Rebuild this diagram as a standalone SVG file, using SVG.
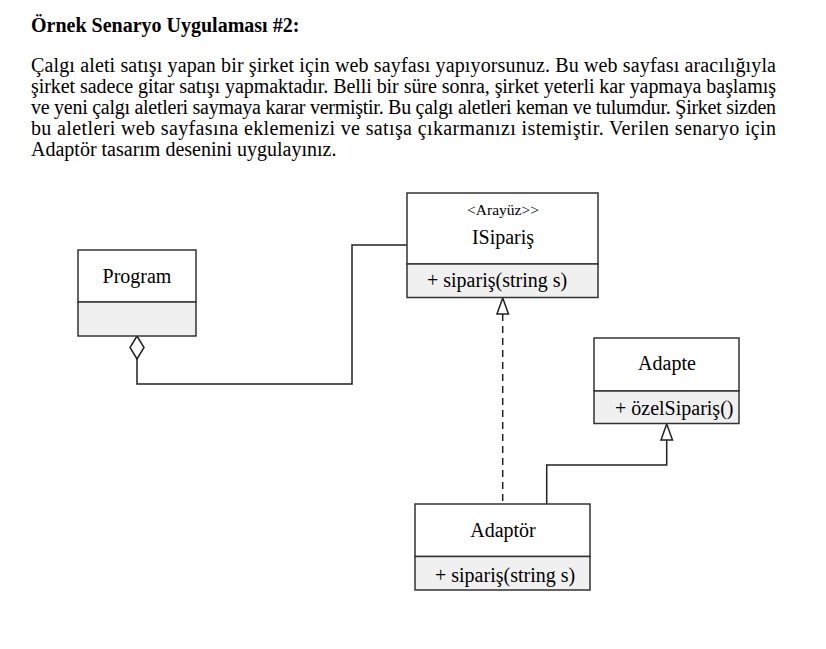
<svg xmlns="http://www.w3.org/2000/svg" width="826" height="649" viewBox="0 0 826 649">
<style>
.t{font-family:"Liberation Serif","Times New Roman",serif;fill:#000}
.body{font-size:20px}
.box{fill:#fff;stroke:#333;stroke-width:1.5}
.cmp{fill:#f0f0f0;stroke:#333;stroke-width:1.5}
.nm{font-size:20px;text-anchor:middle}
.op{font-size:20px}
.ln{fill:none;stroke:#222;stroke-width:1.5}
</style>
<rect width="826" height="649" fill="#fff"/>
<text class="t" x="31" y="32" font-size="20" font-weight="bold">Örnek Senaryo Uygulaması #2:</text>
<text class="t body" x="31" y="72" textLength="745" lengthAdjust="spacing">Çalgı aleti satışı yapan bir şirket için web sayfası yapıyorsunuz. Bu web sayfası aracılığıyla</text>
<text class="t body" x="31" y="93" textLength="745" lengthAdjust="spacing">şirket sadece gitar satışı yapmaktadır. Belli bir süre sonra, şirket yeterli kar yapmaya başlamış</text>
<text class="t body" x="31" y="114" textLength="745" lengthAdjust="spacing">ve yeni çalgı aletleri saymaya karar vermiştir. Bu çalgı aletleri keman ve tulumdur. Şirket sizden</text>
<text class="t body" x="31" y="135" textLength="745" lengthAdjust="spacing">bu aletleri web sayfasına eklemenizi ve satışa çıkarmanızı istemiştir. Verilen senaryo için</text>
<text class="t body" x="31" y="156">Adaptör tasarım desenini uygulayınız.</text>

<g id="connectors">
<path class="ln" d="M137 359 V384 H352 V245 H407"/>
<path d="M137 336 L144 347.5 L137 359 L130 347.5 Z" fill="#fff" stroke="#222" stroke-width="1.5"/>
<path class="ln" d="M502.7 314 V504" stroke-dasharray="7,5"/>
<path d="M502.7 298 L508.5 314 L497 314 Z" fill="#fff" stroke="#222" stroke-width="1.5"/>
<path class="ln" d="M666.7 440 V465 H546.7 V504"/>
<path d="M666.7 424 L672.5 440 L661 440 Z" fill="#fff" stroke="#222" stroke-width="1.5"/>
</g>

<g id="program">
<rect class="box" x="78" y="250" width="118" height="52"/>
<rect class="cmp" x="78" y="302" width="118" height="34"/>
<text class="t nm" x="137" y="283">Program</text>
</g>

<g id="isiparis">
<rect class="box" x="407" y="193" width="191" height="71"/>
<rect class="cmp" x="407" y="264" width="191" height="33.5"/>
<text class="t" x="503" y="215" font-size="15.5" text-anchor="middle">&lt;Arayüz&gt;&gt;</text>
<text class="t nm" x="503" y="244">ISipariş</text>
<text class="t op" x="427" y="287">+ sipariş(string s)</text>
</g>

<g id="adapte">
<rect class="box" x="594" y="338" width="145" height="53"/>
<rect class="cmp" x="594" y="391" width="145" height="32.5"/>
<text class="t nm" x="667" y="370">Adapte</text>
<text class="t op" x="615" y="415">+ özelSipariş()</text>
</g>

<g id="adaptor">
<rect class="box" x="415" y="504" width="175" height="52.5"/>
<rect class="cmp" x="415" y="556.5" width="175" height="33.5"/>
<text class="t nm" x="503" y="537">Adaptör</text>
<text class="t op" x="435" y="582">+ sipariş(string s)</text>
</g>
</svg>
